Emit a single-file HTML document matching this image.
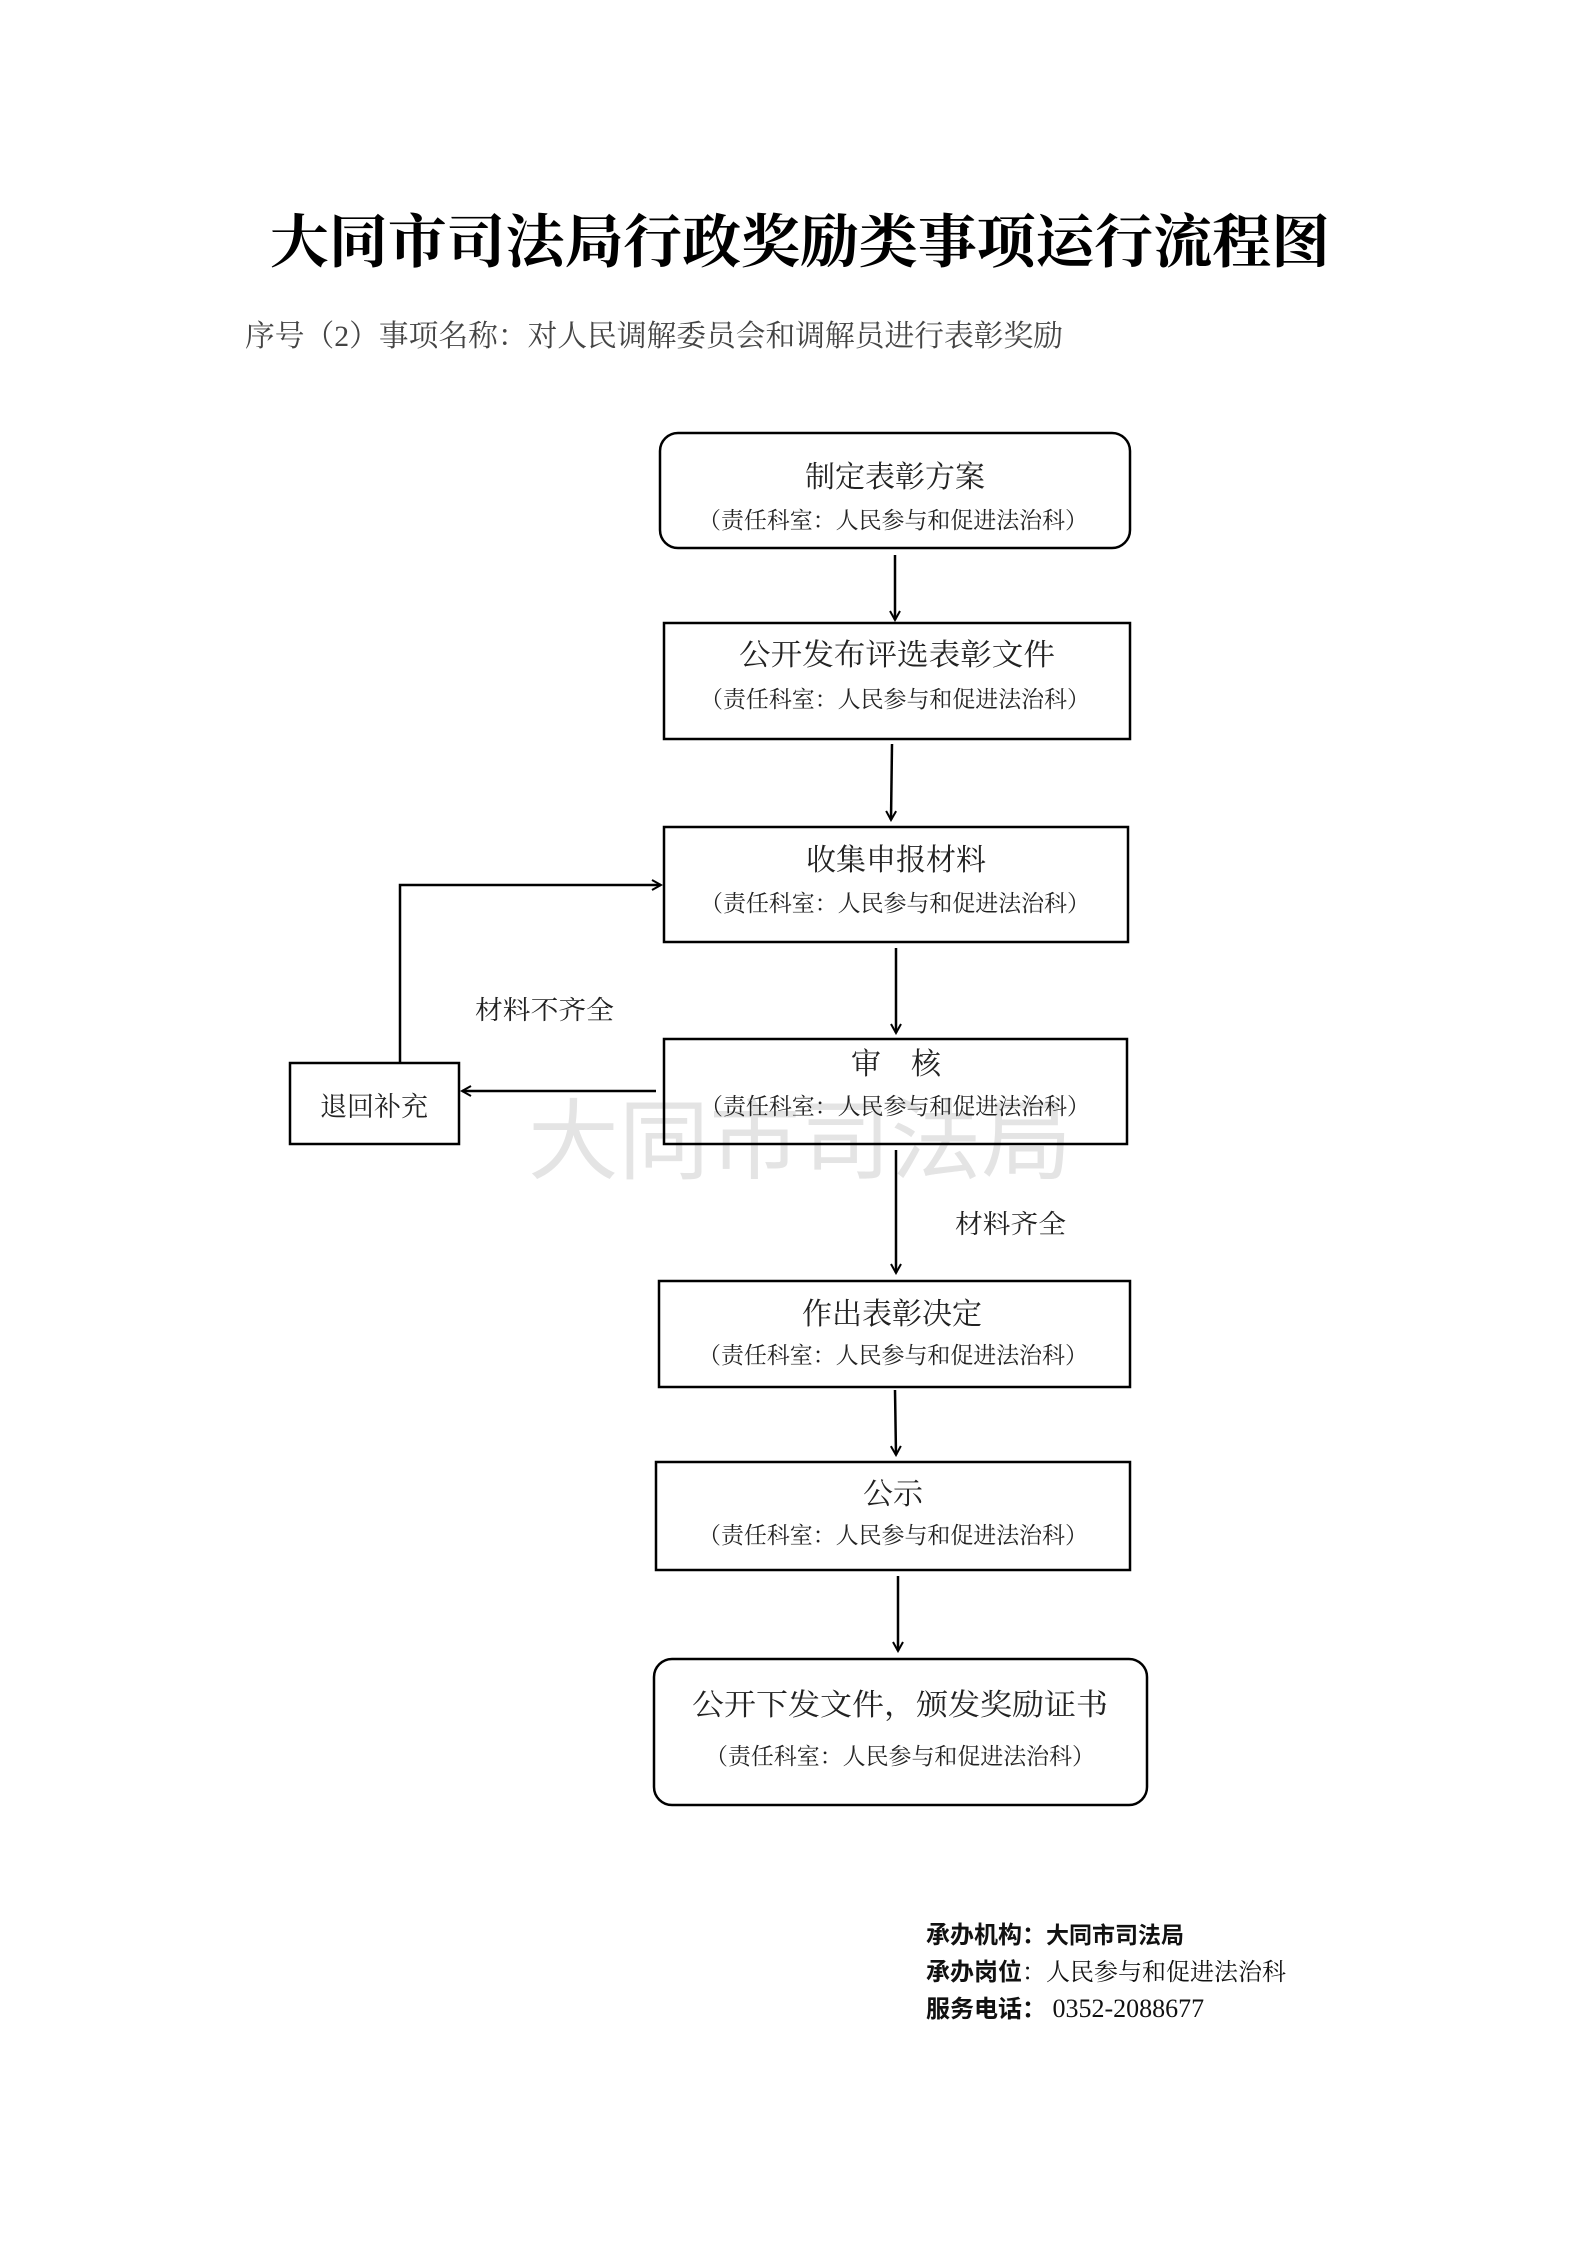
<!DOCTYPE html>
<html><head><meta charset="utf-8"><style>
html,body{margin:0;padding:0;background:#fff;}
svg{display:block;}
text{font-family:"Liberation Serif","Noto Serif CJK SC","Noto Sans CJK SC",serif;}
.sans{font-family:"Liberation Sans","Noto Sans CJK SC",sans-serif;}
</style></head><body>
<svg width="1587" height="2245" viewBox="0 0 1587 2245" xmlns="http://www.w3.org/2000/svg">
<defs>
<marker id="a" markerWidth="12" markerHeight="12" refX="10" refY="6" orient="auto" markerUnits="userSpaceOnUse">
<path d="M1,1 L10,6 L1,11" fill="none" stroke="#000" stroke-width="2"/>
</marker>
</defs>
<text x="800" y="262" text-anchor="middle" font-size="58" font-weight="bold" fill="#000" textLength="1060" lengthAdjust="spacingAndGlyphs">大同市司法局行政奖励类事项运行流程图</text>
<text x="245" y="346" font-size="30" fill="#444" textLength="818" lengthAdjust="spacingAndGlyphs">序号（2）事项名称：对人民调解委员会和调解员进行表彰奖励</text>

<!-- watermark -->
<text class="sans" x="800" y="1172" text-anchor="middle" font-size="88" fill="#e4e4e4" style="font-family:'Liberation Sans','Noto Sans CJK SC',sans-serif" textLength="544" lengthAdjust="spacingAndGlyphs">大同市司法局</text>

<g fill="none" stroke="#000" stroke-width="2.5">
<rect x="660" y="433" width="470" height="115" rx="18"/>
<rect x="664" y="623" width="466" height="116"/>
<rect x="664" y="827" width="464" height="115"/>
<rect x="664" y="1039" width="463" height="105"/>
<rect x="290" y="1063" width="169" height="81"/>
<rect x="659" y="1281" width="471" height="106"/>
<rect x="656" y="1462" width="474" height="108"/>
<rect x="654" y="1659" width="493" height="146" rx="18"/>
</g>
<g stroke="#000" stroke-width="2.5" fill="none">
<line x1="895" y1="555" x2="895" y2="620" marker-end="url(#a)"/>
<line x1="892" y1="744" x2="891" y2="820" marker-end="url(#a)"/>
<line x1="896" y1="948" x2="896" y2="1033" marker-end="url(#a)"/>
<line x1="896" y1="1150" x2="896" y2="1273" marker-end="url(#a)"/>
<line x1="895" y1="1390" x2="896" y2="1455" marker-end="url(#a)"/>
<line x1="898" y1="1576" x2="898" y2="1651" marker-end="url(#a)"/>
<polyline points="400,1062 400,885 661,885" marker-end="url(#a)"/>
<line x1="656" y1="1091" x2="462" y2="1091" marker-end="url(#a)"/>
</g>

<g font-size="30" fill="#222" text-anchor="middle">
<text x="895" y="487">制定表彰方案</text>
<text x="897" y="665" textLength="316" lengthAdjust="spacingAndGlyphs">公开发布评选表彰文件</text>
<text x="896" y="870">收集申报材料</text>
<text x="896" y="1074">审　核</text>
<text x="892" y="1324">作出表彰决定</text>
<text x="893" y="1504">公示</text>
<text x="900" y="1715" textLength="416" lengthAdjust="spacingAndGlyphs">公开下发文件，颁发奖励证书</text>
<text x="374" y="1116" font-size="27">退回补充</text>
</g>
<g font-size="23" fill="#222" text-anchor="middle">
<text x="893" y="528" textLength="390" lengthAdjust="spacingAndGlyphs">（责任科室：人民参与和促进法治科）</text>
<text x="895" y="707" textLength="390" lengthAdjust="spacingAndGlyphs">（责任科室：人民参与和促进法治科）</text>
<text x="895" y="911" textLength="390" lengthAdjust="spacingAndGlyphs">（责任科室：人民参与和促进法治科）</text>
<text x="895" y="1114" textLength="390" lengthAdjust="spacingAndGlyphs">（责任科室：人民参与和促进法治科）</text>
<text x="893" y="1363" textLength="390" lengthAdjust="spacingAndGlyphs">（责任科室：人民参与和促进法治科）</text>
<text x="893" y="1543" textLength="390" lengthAdjust="spacingAndGlyphs">（责任科室：人民参与和促进法治科）</text>
<text x="900" y="1764" textLength="390" lengthAdjust="spacingAndGlyphs">（责任科室：人民参与和促进法治科）</text>
</g>
<text x="475" y="1019" font-size="26" fill="#222" textLength="139" lengthAdjust="spacingAndGlyphs">材料不齐全</text>
<text x="955" y="1233" font-size="26" fill="#222" textLength="111" lengthAdjust="spacingAndGlyphs">材料齐全</text>

<g font-size="24" fill="#111">
<text x="926" y="1943"><tspan font-weight="bold" style="font-family:'Liberation Sans','Noto Sans CJK SC',sans-serif">承办机构：</tspan><tspan font-weight="bold" style="font-family:'Liberation Sans','Noto Sans CJK SC',sans-serif" font-size="23">大同市司法局</tspan></text>
<text x="926" y="1980"><tspan font-weight="bold" style="font-family:'Liberation Sans','Noto Sans CJK SC',sans-serif">承办岗位</tspan><tspan>：人民参与和促进法治科</tspan></text>
<text x="926" y="2017"><tspan font-weight="bold" style="font-family:'Liberation Sans','Noto Sans CJK SC',sans-serif">服务电话：</tspan><tspan font-size="26"> 0352-2088677</tspan></text>
</g>
</svg>
</body></html>
